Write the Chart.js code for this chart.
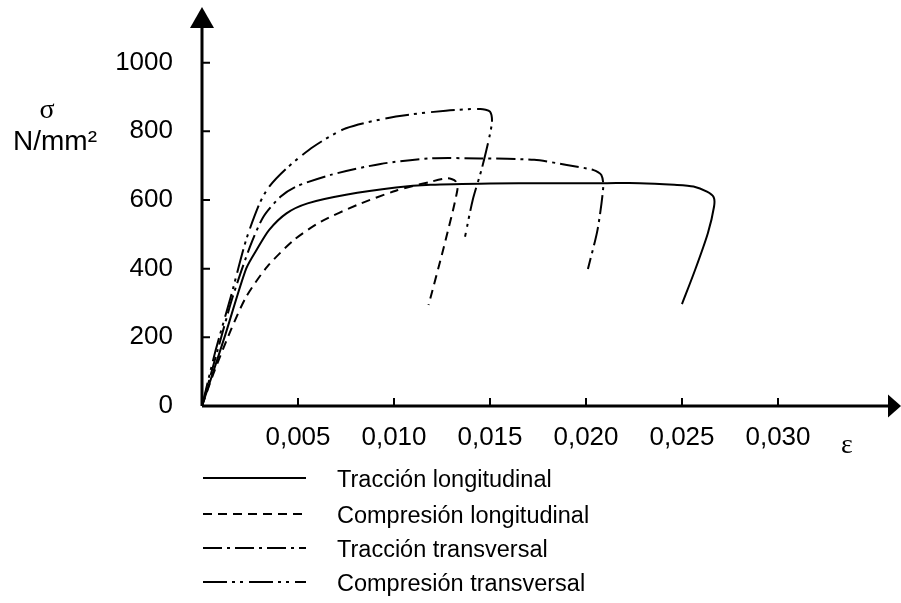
<!DOCTYPE html>
<html>
<head>
<meta charset="utf-8">
<script src="https://cdn.jsdelivr.net/npm/chart.js@4"></script>
<style>
  html, body { margin: 0; padding: 0; background: #ffffff; }
  #wrap { width: 901px; height: 603px; }
</style>
</head>
<body>
<div id="wrap"><canvas id="stressChart" width="901" height="603"></canvas></div>
<script>
// strain (ε) and stress (σ, N/mm²)
const epsTraccionLong = [0, 0.0012, 0.0023, 0.0029, 0.0035, 0.0044, 0.0055, 0.0075, 0.0101, 0.0119, 0.0150, 0.0180, 0.0211, 0.0228, 0.0246, 0.0256, 0.0263, 0.02665, 0.02667, 0.02635, 0.02568, 0.0250];
const sigTraccionLong = [0, 205, 400, 460, 513, 561, 590, 615, 636, 644, 648, 649, 649, 649, 644, 639, 624, 608, 581, 504, 396, 297];

const epsCompresionLong = [0, 0.0006, 0.0015, 0.0023, 0.0034, 0.0048, 0.0062, 0.0081, 0.0101, 0.0119, 0.0128, 0.0132, 0.0133, 0.0126, 0.0118];
const sigCompresionLong = [0, 95, 221, 318, 406, 484, 537, 586, 627, 653, 663, 655, 629, 464, 294];

const epsTraccionTrans = [0, 0.0008, 0.0016, 0.0025, 0.0032, 0.0041, 0.0049, 0.0067, 0.0093, 0.0119, 0.0145, 0.0173, 0.0190, 0.0204, 0.0208, 0.0209, 0.0206, 0.0201];
const sigTraccionTrans = [0, 160, 318, 464, 551, 610, 639, 673, 705, 721, 721, 717, 702, 687, 673, 639, 513, 399];

const epsCompresionTrans = [0, 0.0007, 0.0015, 0.0023, 0.0030, 0.0035, 0.0044, 0.0058, 0.0075, 0.0101, 0.0127, 0.0145, 0.0150, 0.0151, 0.0146, 0.0141, 0.0137];
const sigCompresionTrans = [0, 160, 318, 484, 590, 639, 692, 755, 809, 843, 860, 865, 857, 823, 697, 600, 493];

const seriesNames = ["Tracción longitudinal", "Compresión longitudinal", "Tracción transversal", "Compresión transversal"];

const xTickVals = [0.005, 0.010, 0.015, 0.020, 0.025, 0.030];
const yTickVals = [0, 200, 400, 600, 800, 1000];

const SANS = "'Liberation Sans', Arial, sans-serif";
const SERIF = "'Liberation Serif', 'Times New Roman', serif";

function pts(xs, ys) {
    return xs.map((x, i) => ({ x: x, y: ys[i] }));
}

const dashes = [[], [9, 6], [19, 5, 3, 5], [24, 5, 3, 5, 3, 6]];
const allEps = [epsTraccionLong, epsCompresionLong, epsTraccionTrans, epsCompresionTrans];
const allSig = [sigTraccionLong, sigCompresionLong, sigTraccionTrans, sigCompresionTrans];

const datasets = seriesNames.map((name, i) => ({
    label: name,
    data: pts(allEps[i], allSig[i]),
    showLine: true,
    borderColor: "#000000",
    borderWidth: 2,
    borderDash: dashes[i],
    pointRadius: 0,
    tension: 0.25,
    fill: false
}));

// axes with arrows, tick marks, axis titles and the legend underneath
const decorPlugin = {
    id: "decor",
    afterDraw(chart) {
        const ctx = chart.ctx;
        const a = chart.chartArea;
        const xs = chart.scales.x;
        const ys = chart.scales.y;
        const ox = xs.getPixelForValue(0);
        const oy = ys.getPixelForValue(0);
        ctx.save();
        ctx.strokeStyle = "#000";
        ctx.fillStyle = "#000";
        ctx.setLineDash([]);

        ctx.lineWidth = 3;
        ctx.beginPath();
        ctx.moveTo(ox, oy);
        ctx.lineTo(a.right - 6, oy);
        ctx.moveTo(ox, oy);
        ctx.lineTo(ox, a.top + 8);
        ctx.stroke();

        // arrow heads
        ctx.beginPath();
        ctx.moveTo(a.right + 1, oy);
        ctx.lineTo(a.right - 12, oy - 11.5);
        ctx.lineTo(a.right - 12, oy + 11.5);
        ctx.closePath();
        ctx.fill();
        ctx.beginPath();
        ctx.moveTo(ox, a.top);
        ctx.lineTo(ox - 12, a.top + 21);
        ctx.lineTo(ox + 12, a.top + 21);
        ctx.closePath();
        ctx.fill();

        ctx.lineWidth = 2;
        ctx.beginPath();
        xTickVals.forEach(v => {
            const px = xs.getPixelForValue(v);
            ctx.moveTo(px, oy);
            ctx.lineTo(px, oy - 8);
        });
        yTickVals.forEach(v => {
            if (v === 0) return;
            const py = ys.getPixelForValue(v);
            ctx.moveTo(ox, py);
            ctx.lineTo(ox + 8, py);
        });
        ctx.stroke();

        // axis titles
        ctx.textAlign = "center";
        ctx.textBaseline = "middle";
        ctx.font = "28px " + SERIF;
        ctx.fillText("σ", 47, 111);
        ctx.fillText("ε", 847, 446);
        ctx.font = "28px " + SANS;
        ctx.fillText("N/mm²", 55, 142);

        // legend
        const rows = [481, 517, 551, 585];
        ctx.textAlign = "left";
        ctx.font = "23.5px " + SANS;
        chart.data.datasets.forEach((ds, i) => {
            ctx.lineWidth = 2;
            ctx.setLineDash(ds.borderDash);
            ctx.beginPath();
            ctx.moveTo(203, rows[i] - 3);
            ctx.lineTo(306, rows[i] - 3);
            ctx.stroke();
            ctx.setLineDash([]);
            ctx.fillText(ds.label, 337, rows[i]);
        });
        ctx.restore();
    }
};

new Chart(document.getElementById("stressChart"), {
    type: "scatter",
    data: { datasets: datasets },
    options: {
        responsive: false,
        animation: false,
        layout: { padding: { top: 7, right: 1, bottom: 0, left: 0 } },
        plugins: {
            legend: { display: false },
            tooltip: { enabled: false }
        },
        scales: {
            x: {
                type: "linear",
                min: 0,
                max: 0.036354,
                afterBuildTicks: scale => {
                    scale.ticks = xTickVals.map(v => ({ value: v }));
                },
                afterFit: scale => {
                    scale.height = 197;
                    scale.paddingLeft = 0;
                    scale.paddingRight = 0;
                },
                grid: { display: false },
                border: { display: false },
                ticks: {
                    color: "#000",
                    padding: 8,
                    maxRotation: 0,
                    font: { family: SANS, size: 26 },
                    callback: v => v.toFixed(3).replace(".", ",")
                }
            },
            y: {
                type: "linear",
                min: 0,
                max: 1162,
                afterBuildTicks: scale => {
                    scale.ticks = yTickVals.map(v => ({ value: v }));
                },
                afterFit: scale => {
                    scale.width = 202;
                    scale.paddingTop = 0;
                    scale.paddingBottom = 0;
                },
                grid: { display: false },
                border: { display: false },
                ticks: {
                    color: "#000",
                    padding: 21,
                    font: { family: SANS, size: 26 },
                    callback: v => String(v)
                }
            }
        }
    },
    plugins: [decorPlugin]
});
</script>
</body>
</html>
